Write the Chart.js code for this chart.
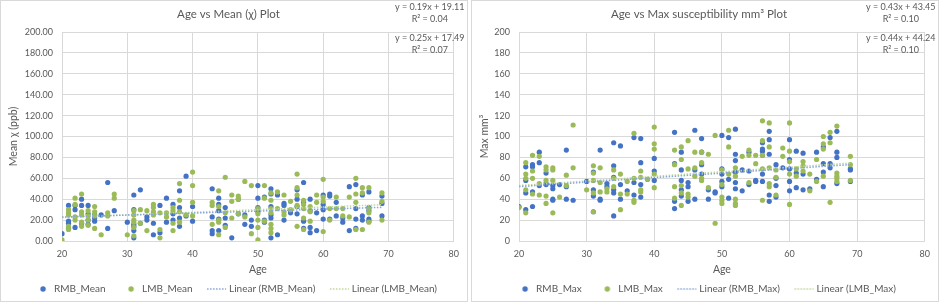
<!DOCTYPE html>
<html>
<head>
<meta charset="utf-8">
<script src="https://cdn.jsdelivr.net/npm/chart.js@4"></script>
<style>
  body { margin: 0; background: #fff; }
  .panel { position: absolute; top: 0; width: 466px; height: 300px; border: 1px solid #d9d9d9; }
  .panel canvas { display: block; }
  #leftPanel { left: 0; }
  #rightPanel { left: 471px; }
</style>
</head>
<body>
<div class="panel" id="leftPanel"><canvas id="meanChart" width="466" height="300"></canvas></div>
<div class="panel" id="rightPanel"><canvas id="maxChart" width="466" height="300"></canvas></div>
<script>
// ===== Data (values grouped per age) =====
const ages = [20, 21, 22, 23, 24, 25, 26, 27, 28, 30, 31, 32, 33, 34, 35, 36, 37, 38, 39, 40,
  43, 44, 45, 46, 47, 48, 49, 50, 51, 52, 53, 54, 55, 56, 57, 58, 59, 60, 61, 62, 63, 64, 65, 66, 67, 69];

const rmbMean = [
  [7], [34, 19, 17, 12], [34, 30, 13], [40, 34, 17], [34, 26, 20, 16], [25, 22, 19], [25], [56, 12], [29],
  [18], [44, 30, 16, 14, 10, 3], [49, 17], [23, 20], [17, 6], [34, 8], [41, 18], [35, 26, 20], [48, 32, 22, 14], [62, 24], [33, 19],
  [50, 23, 10, 7], [41, 35, 29, 21, 10], [32, 22, 15], [3], [40, 26], [25, 16], [20, 14], [53, 41, 32, 28], [42, 20, 18],
  [50, 45, 33, 25, 22, 3], [44, 6], [36, 34, 20], [29, 27], [49, 40, 33, 26], [56, 37, 19, 12], [40, 29, 13, 8], [27, 10],
  [44, 35, 30, 21], [45, 43, 21], [37, 24], [22, 18], [52, 10], [54, 31, 21, 12], [44, 24, 20], [47, 32, 29, 21, 19], [43, 36, 24]
];
const lmbMean = [
  [1], [30, 27, 25, 14, 11], [41, 35, 23, 20], [45, 28, 25, 18, 14], [29, 24, 20, 15], [33, 28, 24, 12], [6], [27, 24], [45, 41],
  [6], [29, 25, 20, 18, 13, 5], [30, 17], [29, 10], [35, 32, 28, 25], [27, 11, 3], [27, 23], [32, 29, 17, 10], [55, 39, 28, 18], [25], [66, 53, 37, 24],
  [37, 34, 16], [48, 33, 20, 18, 6], [61, 27, 13], [44, 38, 22], [43, 40, 26], [57, 23], [53, 7], [31, 26, 20, 13, 1], [53, 41, 19],
  [46, 39, 31, 27, 16, 12, 8], [47, 31], [44, 28, 25], [38, 30], [64, 51, 44, 34, 14], [39, 35, 31, 22, 11], [33, 28, 19], [44, 37],
  [59, 42, 38, 9], [31, 20], [42, 31], [31, 24], [42, 23], [60, 45, 37, 11], [51, 46, 11], [51, 31, 27, 18], [46, 38, 20]
];

const rmbMax = [
  [33], [71, 58, 46, 30], [73, 71, 47, 33], [85, 75, 53], [65, 55, 54], [53, 50, 40, 39], [54], [87, 52, 40], [39],
  [57], [66, 49, 43, 28], [87, 40, 39], [55, 52], [94, 72, 61, 49, 46, 24], [91, 54, 40], [48], [99, 56, 44], [98, 75, 54, 42], [59], [79, 67, 58],
  [104, 74, 38, 31], [85, 68, 58, 49, 43], [56, 52, 38], [106, 68, 40], [98, 85, 73, 64], [49, 40], [47, 46], [101, 69, 64, 57, 52], [99, 59, 41],
  [107, 83, 77, 66, 56, 50], [68, 48], [85, 67, 54], [58, 57], [94, 88, 86, 82, 64, 57], [105, 97, 83, 44, 38], [73, 60, 53, 42], [70],
  [97, 78, 69, 57, 48], [86, 65, 51], [84, 64, 49], [50], [85, 59], [90, 74, 66, 52], [99, 74, 70], [105, 85, 80, 55], [69, 68, 57]
];
const lmbMax = [
  [32], [75, 64, 60, 49, 27], [82, 67, 60, 45], [81, 55, 44], [71, 68, 58, 43, 36], [70, 68, 58, 27], [42], [63, 53], [111, 70],
  [49], [72, 65, 58, 46, 28], [70, 56, 47], [50, 47], [68, 60, 52], [64, 45, 30], [57, 45], [103, 60, 39, 37], [67, 61, 49, 47], [59], [109, 93, 88, 64, 51],
  [87, 73, 52, 41], [90, 78, 53, 46, 34], [96, 69, 45, 42], [85, 70, 62], [85, 75, 60, 58], [83, 51], [101, 17], [68, 54, 42, 39, 36], [106, 90, 64],
  [70, 62, 40, 36, 34], [81], [87, 82, 56], [82, 74], [115, 96, 82, 69, 39], [113, 90, 70, 55, 52], [68, 61, 44], [89, 81],
  [113, 86, 76, 64, 35], [69, 62], [76, 72, 67], [64, 48], [78, 57], [100, 93, 88, 62], [104, 94, 37], [110, 65, 62, 60, 57], [81, 73, 58]
];

// trendline [slope, intercept, R²] as printed on the chart
const rmbMeanFit = [0.19, 19.11, 0.04];
const lmbMeanFit = [0.25, 17.49, 0.07];
const rmbMaxFit = [0.43, 43.45, 0.10];
const lmbMaxFit = [0.44, 44.24, 0.10];

const xTicks = [20, 30, 40, 50, 60, 70, 80];
const yTicks = [0, 20, 40, 60, 80, 100, 120, 140, 160, 180, 200];

// ===== Styling =====
const FONT = 'Lato, "Noto Sans", sans-serif';
const TEXT = '#595959';
const GRID = '#d9d9d9';
const BLUE = '#4472C4';
const GREEN = '#9BBB59';
const BLUE_TREND = '#86a6dc';
const GREEN_TREND = '#c0d796';

Chart.defaults.font.family = FONT;
Chart.defaults.color = TEXT;

function toPoints(groups) {
  const pts = [];
  ages.forEach((a, i) => groups[i].forEach(v => pts.push({ x: a, y: v })));
  return pts;
}

function trendPoints(fit) {
  const x0 = ages[0], x1 = ages[ages.length - 1];
  return [{ x: x0, y: fit[0] * x0 + fit[1] }, { x: x1, y: fit[0] * x1 + fit[1] }];
}

// legend icons, drawn into small canvases so spacing matches the original
function dotIcon(color) {
  const c = document.createElement('canvas');
  c.width = 29; c.height = 8;
  const g = c.getContext('2d');
  g.fillStyle = color;
  g.beginPath();
  g.arc(23, 4, 2.7, 0, Math.PI * 2);
  g.fill();
  return c;
}
function lineIcon(color) {
  const c = document.createElement('canvas');
  c.width = 35; c.height = 4;
  const g = c.getContext('2d');
  g.strokeStyle = color;
  g.lineWidth = 1.5;
  g.setLineDash([1.5, 1.5]);
  g.beginPath();
  g.moveTo(15, 2);
  g.lineTo(34, 2);
  g.stroke();
  return c;
}
const legendIcons = [dotIcon(BLUE), dotIcon(GREEN), lineIcon(BLUE_TREND), lineIcon(GREEN_TREND)];

const equationLabels = {
  id: 'equationLabels',
  afterDraw(chart, args, opts) {
    const { ctx, chartArea } = chart;
    ctx.save();
    ctx.font = '9px ' + FONT;
    ctx.fillStyle = TEXT;
    ctx.textAlign = 'center';
    ctx.textBaseline = 'middle';
    const x = chartArea.right - 24;
    opts.fits.forEach((fit, i) => {
      const y = chartArea.top - 24.5 + i * 30.5;
      ctx.fillText(`y = ${fit[0].toFixed(2)}x + ${fit[1].toFixed(2)}`, x, y);
      ctx.fillText(`R² = ${fit[2].toFixed(2)}`, x, y + 12);
    });
    ctx.restore();
  }
};

function makeChart(canvasId, opt) {
  return new Chart(document.getElementById(canvasId), {
    type: 'scatter',
    data: {
      datasets: [
        { label: opt.names[0], data: toPoints(opt.rmb), backgroundColor: BLUE, borderWidth: 0, pointRadius: 2.6, order: 2 },
        { label: opt.names[1], data: toPoints(opt.lmb), backgroundColor: GREEN, borderWidth: 0, pointRadius: 2.6, order: 1 },
        { label: `Linear (${opt.names[0]})`, data: trendPoints(opt.fits[0]), showLine: true, borderColor: BLUE_TREND,
          borderWidth: 1.5, borderDash: [1.5, 1.5], pointRadius: 0, order: 0 },
        { label: `Linear (${opt.names[1]})`, data: trendPoints(opt.fits[1]), showLine: true, borderColor: GREEN_TREND,
          borderWidth: 1.5, borderDash: [1.5, 1.5], pointRadius: 0, order: 0 }
      ]
    },
    options: {
      responsive: false,
      animation: false,
      events: [],
      layout: { padding: { left: 0, right: opt.padRight, top: 0, bottom: 0 } },
      scales: {
        x: {
          type: 'linear',
          min: xTicks[0],
          max: xTicks[xTicks.length - 1],
          afterBuildTicks: s => { s.ticks = xTicks.map(v => ({ value: v })); },
          afterFit: s => { s.height = 40.5; },
          ticks: { color: TEXT, font: { size: 9 }, padding: 8 },
          grid: { color: GRID, drawTicks: false },
          border: { color: GRID },
          title: { display: true, text: 'Age', color: TEXT, font: { size: 10.5 }, padding: { top: 0, bottom: 6 } }
        },
        y: {
          min: yTicks[0],
          max: yTicks[yTicks.length - 1],
          afterBuildTicks: s => { s.ticks = yTicks.map(v => ({ value: v })); },
          afterFit: s => { s.width = opt.yWidth; },
          ticks: { color: TEXT, font: { size: 9 }, padding: 9, callback: v => v.toFixed(opt.decimals) },
          grid: { color: GRID, drawTicks: false },
          border: { color: GRID },
          title: { display: true, text: opt.yTitle, color: TEXT, font: { size: 10.5 }, padding: { top: 6, bottom: 0 } }
        }
      },
      plugins: {
        title: {
          display: true,
          text: opt.title,
          color: TEXT,
          font: { size: 11.5, weight: 'normal' },
          padding: { top: 6.6, bottom: 10.6 }
        },
        legend: {
          position: 'bottom',
          maxHeight: 19.5,
          labels: {
            usePointStyle: true,
            pointStyleWidth: 29,
            color: TEXT,
            font: { size: 10 },
            padding: 2.5,
            generateLabels(chart) {
              const items = Chart.defaults.plugins.legend.labels.generateLabels(chart);
              items.sort((a, b) => a.datasetIndex - b.datasetIndex);
              items.forEach(it => { it.pointStyle = legendIcons[it.datasetIndex]; });
              return items;
            }
          }
        },
        tooltip: { enabled: false },
        equationLabels: { fits: opt.fits }
      }
    },
    plugins: [equationLabels]
  });
}

makeChart('meanChart', {
  title: 'Age vs Mean (χ) Plot',
  yTitle: 'Mean χ (ppb)',
  names: ['RMB_Mean', 'LMB_Mean'],
  rmb: rmbMean,
  lmb: lmbMean,
  fits: [rmbMeanFit, lmbMeanFit],
  decimals: 2,
  yWidth: 61,
  padRight: 11
});

makeChart('maxChart', {
  title: 'Age vs Max susceptibility mm³ Plot',
  yTitle: 'Max mm³',
  names: ['RMB_Max', 'LMB_Max'],
  rmb: rmbMax,
  lmb: lmbMax,
  fits: [rmbMaxFit, lmbMaxFit],
  decimals: 0,
  yWidth: 47,
  padRight: 12
});
</script>
</body>
</html>
